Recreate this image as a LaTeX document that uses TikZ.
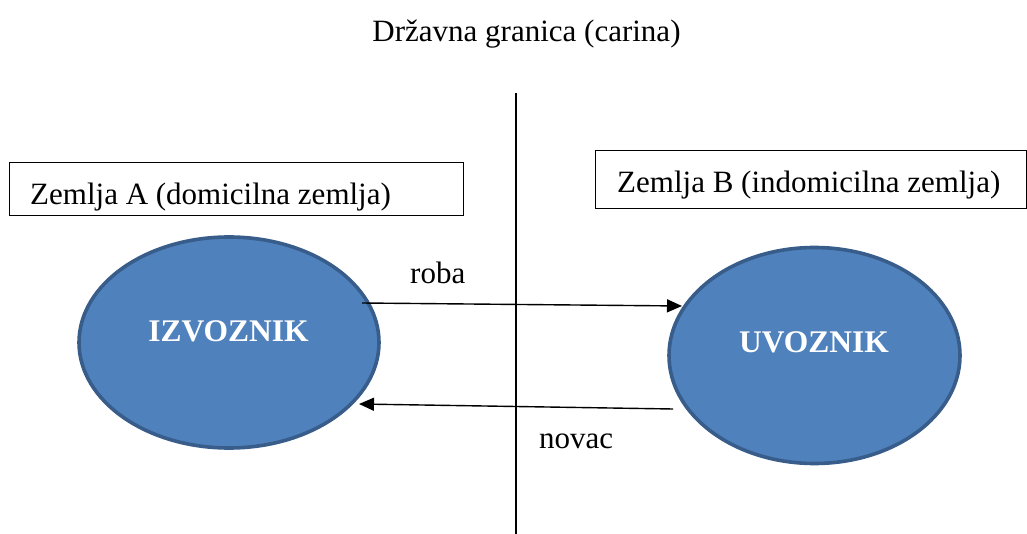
\documentclass[tikz,border=0pt]{standalone}
\usepackage{fontspec}
\setmainfont{Liberation Serif}
\usetikzlibrary{shapes.geometric,arrows.meta,calc}
\definecolor{ellfill}{HTML}{4F81BD}
\definecolor{elldraw}{HTML}{385D8A}
\begin{document}
\begin{tikzpicture}[x=1pt,y=-1pt,
  party/.style={ellipse,draw=elldraw,fill=ellfill,line width=3.6pt,inner sep=0pt},
  partytext/.style={anchor=base,text=white,font=\fontsize{31.5}{36}\selectfont\bfseries,inner sep=0pt},
  labeltext/.style={anchor=base west,font=\fontsize{31}{36}\selectfont,inner sep=0pt},
  countrybox/.style={draw=black,line width=1.4pt,inner sep=0pt,anchor=north west},
  flow/.style={line width=1.4pt,-{Triangle[length=15pt,width=13pt]}}]
\useasboundingbox (0,0) rectangle (1027,534);
% title
\node[labeltext,anchor=base] (title) at (526.5,42) {Državna granica (carina)};
% border line
\coordinate (bt) at (516,93);
\coordinate (bb) at (516,534);
\draw[line width=1.6pt] (bt) -- (bb);
% country boxes
\node[countrybox,minimum width=454pt,minimum height=53pt] (boxA) at (9,162) {};
\node[labeltext] (txtA) at (30,205) {Zemlja A (domicilna zemlja)};
\node[countrybox,minimum width=431pt,minimum height=58pt] (boxB) at (595,150) {};
\node[labeltext] (txtB) at (617,193) {Zemlja B (indomicilna zemlja)};
% parties
\node[party,minimum width=300pt,minimum height=211pt] (izv) at (229,342.5) {};
\node[partytext] (izvt) at (228.5,341.5) {IZVOZNIK};
\node[party,minimum width=291pt,minimum height=216pt] (uvo) at (814.5,355.5) {};
\node[partytext] (uvot) at (814,352) {UVOZNIK};
% flows
\coordinate (r1) at ($(izv.center)+(133,-39.5)$);
\coordinate (r2) at ($(uvo.center)+(-132.5,-49.5)$);
\draw[flow] (r1) -- (r2);
\coordinate (n1) at ($(uvo.center)+(-141.5,53.5)$);
\coordinate (n2) at ($(izv.center)+(130,61.5)$);
\draw[flow] (n1) -- (n2);
\node[labeltext] (roba) at (410,284) {roba};
\node[labeltext] (novac) at (539,448) {novac};
\end{tikzpicture}
\end{document}
